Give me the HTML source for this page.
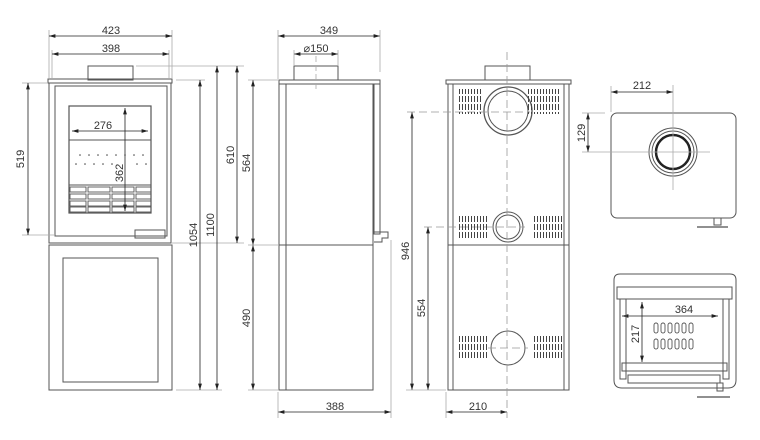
<!DOCTYPE html>
<html><head><meta charset="utf-8"><style>
html,body{margin:0;padding:0;background:#fff;}
svg{display:block}
text{font-family:"Liberation Sans",sans-serif;font-size:11px;fill:#333}
</style></head><body>
<svg width="760" height="440" viewBox="0 0 760 440" xmlns="http://www.w3.org/2000/svg">
<defs>
<marker id="a" viewBox="0 0 10 6" refX="10" refY="3" markerWidth="8" markerHeight="5" orient="auto-start-reverse"><path d="M0,0L10,3L0,6z" fill="#222"/></marker>
<pattern id="v" width="3" height="8" patternUnits="userSpaceOnUse"><rect x="0" y="0" width="1" height="6" fill="#444"/></pattern>
</defs>
<g stroke="#555" fill="none" stroke-width="1">
<!-- FRONT VIEW -->
<rect x="88" y="66" width="45" height="14"/>
<rect x="48" y="79" width="124" height="4"/>
<rect x="49" y="83" width="122" height="160"/>
<rect x="55" y="86" width="112" height="150"/>
<rect x="69" y="106" width="82" height="107" stroke-width="1.2"/>
<line x1="69" y1="140" x2="151" y2="140"/>
<line x1="69" y1="185" x2="151" y2="185"/>
<g stroke-width="0.9">
<rect x="70" y="187" width="16" height="5"/><rect x="88" y="187" width="22" height="5"/><rect x="112" y="187" width="22" height="5"/><rect x="136" y="187" width="15" height="5"/>
<rect x="70" y="194" width="16" height="5"/><rect x="88" y="194" width="22" height="5"/><rect x="112" y="194" width="22" height="5"/><rect x="136" y="194" width="15" height="5"/>
<rect x="70" y="201" width="16" height="5"/><rect x="88" y="201" width="22" height="5"/><rect x="112" y="201" width="22" height="5"/><rect x="136" y="201" width="15" height="5"/>
<rect x="70" y="207" width="16" height="5"/><rect x="88" y="207" width="22" height="5"/><rect x="112" y="207" width="22" height="5"/><rect x="136" y="207" width="15" height="5"/>
</g>
<rect x="135" y="230" width="30" height="8"/>
<line x1="49" y1="245" x2="172" y2="245"/>
<rect x="49" y="245" width="123" height="145"/>
<rect x="63" y="258" width="95" height="124"/>
<!-- front dims -->
<g stroke="#aaa" stroke-width="0.8">
<line x1="49" y1="30" x2="49" y2="79"/><line x1="172" y1="30" x2="172" y2="79"/>
<line x1="52" y1="50" x2="52" y2="79"/><line x1="169" y1="50" x2="169" y2="79"/>
<line x1="22" y1="83" x2="48" y2="83"/><line x1="22" y1="235" x2="55" y2="235"/>
<line x1="176" y1="80" x2="205" y2="80"/><line x1="136" y1="66" x2="244" y2="66"/>
<line x1="176" y1="390" x2="222" y2="390"/><line x1="172" y1="243" x2="244" y2="243"/>
</g>
</g>
<g stroke="#222" stroke-width="0.8" marker-start="url(#a)" marker-end="url(#a)">
<line x1="49" y1="36" x2="172" y2="36"/>
<line x1="52" y1="54" x2="169" y2="54"/>
<line x1="28" y1="83" x2="28" y2="235"/>
<line x1="72" y1="131" x2="148" y2="131"/>
<line x1="125" y1="108" x2="125" y2="211"/>
<line x1="200" y1="80" x2="200" y2="390"/>
<line x1="217" y1="66" x2="217" y2="390"/>
<line x1="237" y1="66" x2="237" y2="243"/>
<!-- side -->
<line x1="278" y1="36" x2="380" y2="36"/>
<line x1="294" y1="54" x2="338" y2="54"/>
<line x1="253" y1="80" x2="253" y2="245"/>
<line x1="253" y1="245" x2="253" y2="390"/>
<line x1="278" y1="412" x2="391" y2="412"/>
<!-- rear -->
<line x1="412" y1="112" x2="412" y2="390"/>
<line x1="428" y1="227" x2="428" y2="390"/>
<line x1="446" y1="412" x2="507" y2="412"/>
<!-- top -->
<line x1="611" y1="92" x2="673" y2="92"/>
<line x1="588" y1="113" x2="588" y2="152"/>
<line x1="622" y1="316" x2="718" y2="316"/>
<line x1="642" y1="302" x2="642" y2="362"/>
</g>
<g fill="#444">
<circle cx="80" cy="155" r="0.8"/><circle cx="89" cy="155" r="0.8"/><circle cx="98" cy="155" r="0.8"/><circle cx="107" cy="155" r="0.8"/><circle cx="116" cy="155" r="0.8"/><circle cx="125" cy="155" r="0.8"/><circle cx="134" cy="155" r="0.8"/><circle cx="143" cy="155" r="0.8"/>
<circle cx="76" cy="164" r="0.8"/><circle cx="85" cy="164" r="0.8"/><circle cx="94" cy="164" r="0.8"/><circle cx="103" cy="164" r="0.8"/><circle cx="112" cy="164" r="0.8"/><circle cx="137" cy="164" r="0.8"/><circle cx="146" cy="164" r="0.8"/>
</g>
<text x="111" y="34" text-anchor="middle">423</text>
<text x="111" y="52" text-anchor="middle">398</text>
<text x="103" y="129" text-anchor="middle">276</text>
<text transform="translate(24,159) rotate(-90)" text-anchor="middle">519</text>
<text transform="translate(123,173) rotate(-90)" text-anchor="middle">362</text>
<text transform="translate(197,235) rotate(-90)" text-anchor="middle">1054</text>
<text transform="translate(214,225) rotate(-90)" text-anchor="middle">1100</text>
<text transform="translate(234,155) rotate(-90)" text-anchor="middle">610</text>

<!-- SIDE VIEW -->
<g stroke="#555" fill="none">
<rect x="294" y="66" width="44" height="14"/>
<rect x="279" y="80" width="101" height="4"/>
<rect x="279" y="84" width="94" height="306"/>
<line x1="286" y1="84" x2="286" y2="390"/>
<line x1="373" y1="84" x2="373" y2="390"/>
<line x1="279" y1="245" x2="373" y2="245"/>
<rect x="374" y="84" width="6" height="150"/>
<path d="M374 232 h14 v6 h-6 v4 h-8"/>
<g stroke="#aaa" stroke-width="0.8">
<line x1="278" y1="30" x2="278" y2="79"/><line x1="380" y1="30" x2="380" y2="72"/>
<line x1="294" y1="50" x2="294" y2="66"/><line x1="338" y1="50" x2="338" y2="66"/>
<line x1="248" y1="80" x2="278" y2="80"/><line x1="248" y1="245" x2="278" y2="245"/>
<line x1="248" y1="390" x2="278" y2="390"/>
<line x1="278" y1="392" x2="278" y2="418"/><line x1="391" y1="240" x2="391" y2="418"/>
<line x1="316" y1="56" x2="316" y2="90" stroke-dasharray="6 3"/>
</g>
</g>
<text x="329" y="34" text-anchor="middle">349</text>
<text x="316" y="52" text-anchor="middle">⌀150</text>
<text transform="translate(250,163) rotate(-90)" text-anchor="middle">564</text>
<text transform="translate(250,318) rotate(-90)" text-anchor="middle">490</text>
<text x="335" y="410" text-anchor="middle">388</text>

<!-- REAR VIEW -->
<g stroke="#555" fill="none">
<rect x="485" y="66" width="45" height="14"/>
<rect x="446" y="80" width="125" height="4"/>
<rect x="448" y="84" width="121" height="306"/>
<line x1="453" y1="84" x2="453" y2="390"/>
<line x1="564" y1="84" x2="564" y2="390"/>
<line x1="448" y1="245" x2="569" y2="245"/>
<circle cx="508" cy="111" r="24" stroke-width="1.3"/><circle cx="508" cy="111" r="20"/>
<circle cx="508" cy="227" r="15"/><circle cx="508" cy="227" r="12"/>
<circle cx="508" cy="348" r="17"/>
<g stroke="#999" stroke-width="0.8" stroke-dasharray="8 4">
<line x1="507" y1="52" x2="507" y2="418"/>
<line x1="407" y1="112" x2="530" y2="112"/>
<line x1="424" y1="227" x2="525" y2="227"/>
<line x1="488" y1="348" x2="528" y2="348"/>
</g>
<g stroke="#aaa" stroke-width="0.8">
<line x1="406" y1="390" x2="446" y2="390"/>
<line x1="446" y1="392" x2="446" y2="418"/>
</g>
</g>
<g fill="url(#v)">
<rect x="457" y="89" width="25" height="25"/><rect x="527" y="89" width="34" height="25"/>
<rect x="457" y="214" width="30" height="25"/><rect x="533" y="214" width="30" height="25"/>
<rect x="457" y="335" width="30" height="25"/><rect x="533" y="335" width="30" height="25"/>
</g>
<text transform="translate(409,251) rotate(-90)" text-anchor="middle">946</text>
<text transform="translate(425,308) rotate(-90)" text-anchor="middle">554</text>
<text x="478" y="410" text-anchor="middle">210</text>

<!-- TOP VIEW -->
<g stroke="#555" fill="none">
<rect x="611" y="113" width="125" height="105" rx="6"/>
<circle cx="673" cy="152" r="24"/><circle cx="673" cy="152" r="21"/>
<circle cx="673" cy="152" r="17" stroke="#222" stroke-width="2.5"/>
<rect x="714" y="218" width="7" height="7"/>
<line x1="697" y1="227" x2="728" y2="227" stroke="#222"/>
<g stroke="#aaa" stroke-width="0.8">
<line x1="673" y1="85" x2="673" y2="190"/><line x1="611" y1="86" x2="611" y2="112"/>
<line x1="582" y1="113" x2="605" y2="113"/><line x1="582" y1="152" x2="710" y2="152"/>
</g>
</g>
<text x="642" y="89" text-anchor="middle">212</text>
<text transform="translate(585,133) rotate(-90)" text-anchor="middle">129</text>

<!-- SECTION VIEW -->
<g stroke="#555" fill="none">
<path d="M614 280 q0 -6 6 -6 h110 q6 0 6 6 v100 q0 8 -8 8 h-106 q-8 0 -8 -8 z"/>
<rect x="617" y="287" width="115" height="12"/>
<line x1="617" y1="299" x2="732" y2="299"/>
<rect x="620" y="299" width="6" height="80"/><rect x="723" y="299" width="6" height="80"/>
<rect x="622" y="363" width="105" height="8"/>
<rect x="628" y="375" width="92" height="8"/>
<g stroke-width="0.9">
<rect x="654" y="323" width="4" height="10" rx="2"/><rect x="661" y="323" width="4" height="10" rx="2"/><rect x="668" y="323" width="4" height="10" rx="2"/><rect x="675" y="323" width="4" height="10" rx="2"/><rect x="682" y="323" width="4" height="10" rx="2"/><rect x="689" y="323" width="4" height="10" rx="2"/>
<rect x="654" y="339" width="4" height="10" rx="2"/><rect x="661" y="339" width="4" height="10" rx="2"/><rect x="668" y="339" width="4" height="10" rx="2"/><rect x="675" y="339" width="4" height="10" rx="2"/><rect x="682" y="339" width="4" height="10" rx="2"/><rect x="689" y="339" width="4" height="10" rx="2"/>
</g>
<rect x="717" y="383" width="6" height="8"/>
<line x1="697" y1="397" x2="730" y2="397" stroke="#222"/>
</g>
<text x="684" y="313" text-anchor="middle">364</text>
<text transform="translate(639,334) rotate(-90)" text-anchor="middle">217</text>
</svg>
</body></html>
